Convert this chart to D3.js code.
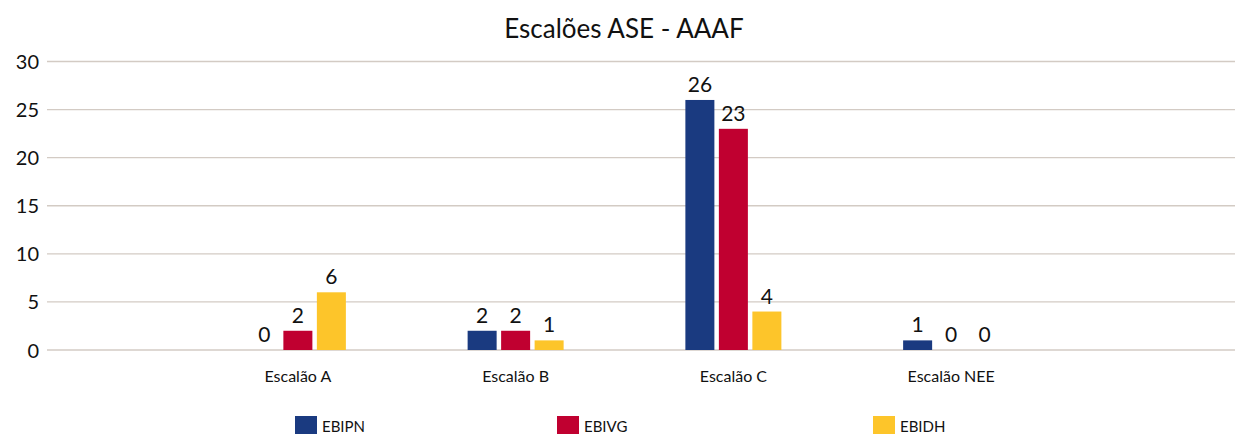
<!DOCTYPE html>
<html>
<head>
<meta charset="utf-8">
<script src="https://cdn.jsdelivr.net/npm/d3@7"></script>
<style>
  body { margin: 0; background: #fff; }
  text { font-family: Lato, "Open Sans", sans-serif; fill: #111; }
</style>
</head>
<body>
<svg id="chart"></svg>
<script>
var categories = ["Escalão A", "Escalão B", "Escalão C", "Escalão NEE"];
var seriesNames = ["EBIPN", "EBIVG", "EBIDH"];
var seriesColors = ["#1a3a80", "#c00030", "#fdc52a"];
var ebipn = [0, 2, 26, 1];
var ebivg = [2, 2, 23, 0];
var ebidh = [6, 1, 4, 0];
var yTicks = [0, 5, 10, 15, 20, 25, 30];

var values = [ebipn, ebivg, ebidh];

var W = 1235, H = 434;
var plotLeft = 47, plotRight = 1235, yTop = 61.5, yBottom = 350;

var svg = d3.select("#chart").attr("width", W).attr("height", H);

var x = d3.scaleBand()
  .domain(categories)
  .range([189, 1060])
  .padding(0);

var x1 = d3.scaleBand()
  .domain(seriesNames)
  .range([-48, 48])
  .paddingInner(0.134);

var y = d3.scaleLinear()
  .domain([0, 30])
  .range([yBottom, yTop]);

// title
svg.append("text")
  .attr("x", 624).attr("y", 38)
  .attr("text-anchor", "middle")
  .style("font-size", "26px")
  .text("Escalões ASE - AAAF");

// gridlines
svg.append("g").selectAll("line")
  .data(yTicks)
  .enter().append("line")
  .attr("x1", plotLeft).attr("x2", plotRight)
  .attr("y1", function(d) { return y(d); })
  .attr("y2", function(d) { return y(d); })
  .attr("stroke", "#d3cbc4")
  .attr("stroke-width", 1.3);

// y axis labels
var yAxis = svg.append("g")
  .attr("transform", "translate(39,0)")
  .call(d3.axisLeft(y).tickValues(yTicks).tickSize(0).tickPadding(0));
yAxis.select(".domain").remove();
yAxis.selectAll("text")
  .style("font-size", "20px")
  .attr("dy", "0.35em")
  .attr("fill", "#111");

// x axis labels
var xAxis = svg.append("g")
  .attr("transform", "translate(0," + yBottom + ")")
  .call(d3.axisBottom(x).tickSize(0).tickPadding(21));
xAxis.select(".domain").remove();
xAxis.selectAll("text")
  .style("font-size", "16px")
  .attr("fill", "#111");

// bars
var groups = svg.append("g").selectAll("g")
  .data(categories)
  .enter().append("g")
  .attr("transform", function(d) { return "translate(" + (x(d) + x.bandwidth() / 2) + ",0)"; });

seriesNames.forEach(function(s, si) {
  groups.append("rect")
    .attr("x", x1(s))
    .attr("width", x1.bandwidth())
    .attr("y", function(d, i) { return y(values[si][i]); })
    .attr("height", function(d, i) { return yBottom - y(values[si][i]); })
    .attr("fill", seriesColors[si]);

  groups.append("text")
    .attr("x", x1(s) + x1.bandwidth() / 2)
    .attr("y", function(d, i) { return y(values[si][i]) - 8; })
    .attr("text-anchor", "middle")
    .style("font-size", "21px")
    .text(function(d, i) { return values[si][i]; });
});

// legend
var legendX = [295, 557, 873];
var legend = svg.append("g").selectAll("g")
  .data(seriesNames)
  .enter().append("g")
  .attr("transform", function(d, i) { return "translate(" + legendX[i] + ",416)"; });

legend.append("rect")
  .attr("width", 22).attr("height", 18)
  .attr("fill", function(d, i) { return seriesColors[i]; });

legend.append("text")
  .attr("x", 27).attr("y", 16)
  .style("font-size", "15px")
  .text(function(d) { return d; });
</script>
</body>
</html>
